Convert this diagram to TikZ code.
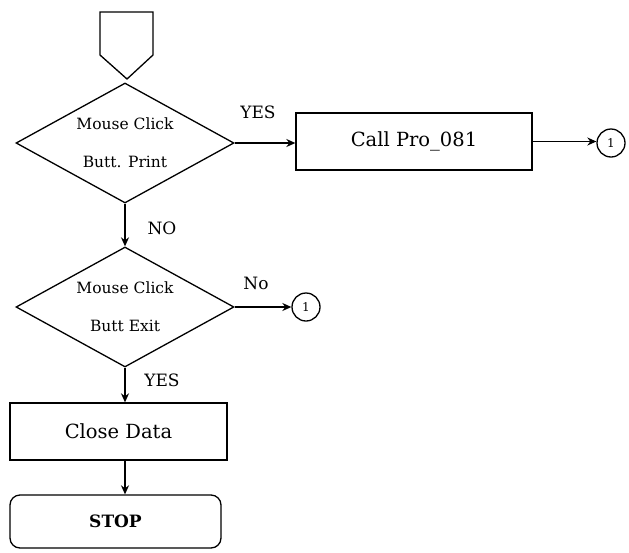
\documentclass[tikz,border=0pt]{standalone}
\usepackage{fontspec}
\setmainfont{DejaVu Serif}
\usetikzlibrary{shapes.geometric,arrows.meta}
\begin{document}
\begin{tikzpicture}[x=1pt,y=-1pt,
  every path/.style={line width=1.3pt},
  decision/.style={draw,diamond,minimum width=218pt,minimum height=120pt,inner sep=0pt},
  dectext/.style={align=center,inner sep=0pt,font=\fontsize{15.5}{38}\selectfont},
  procbox/.style={draw,rectangle,inner sep=0pt,font=\fontsize{19.5}{22}\selectfont},
  connector/.style={draw,circle,minimum size=28pt,inner sep=0pt,font=\fontsize{12}{14}\selectfont},
  arr/.style={-{Stealth[length=9pt,width=8pt]}},
  lbl/.style={font=\fontsize{17}{19}\selectfont,inner sep=0pt}]
\useasboundingbox (0,0) rectangle (629,552);
\fill[white] (0,0) rectangle (629,552);
% start off-page connector
\draw (100,12) -- (153,12) -- (153,55) -- (127,79) -- (100,55) -- cycle;
\node[decision] (d1) at (125,143) {};
\node[dectext] (d1t) at (d1.center) {Mouse Click\\Butt. Print};
\node[procbox,minimum width=236pt,minimum height=57pt] (b1) at (414,141.5) {Call Pro\_081};
\node[connector] (c1) at (611,143) {1};
\node[decision] (d2) at (125,307) {};
\node[dectext] (d2t) at (d2.center) {Mouse Click\\Butt Exit};
\node[connector] (c2) at (306,307) {1};
\node[procbox,minimum width=217pt,minimum height=57pt] (b2) at (118.5,431.5) {Close Data};
\node[procbox,rounded corners=10pt,minimum width=211pt,minimum height=53pt,font=\fontsize{17}{19}\selectfont\bfseries] (stop) at (115.5,521.5) {STOP};
\draw[arr] (d1.east) -- (d1.east -| b1.west);
\draw[arr] (b1.east) -- (b1.east -| c1.west);
\draw[arr] (d1.south) -- (d2.north);
\draw[arr] (d2.east) -- (c2.west);
\draw[arr] (d2.south) -- (d2.south |- b2.north);
\draw[arr] (b2.south -| d2.south) -- (d2.south |- stop.north);
\node[lbl] (l1) at (258,112) {YES};
\node[lbl] (l2) at (162,228) {NO};
\node[lbl] (l3) at (256,283) {No};
\node[lbl] (l4) at (162,380) {YES};
\end{tikzpicture}
\end{document}
